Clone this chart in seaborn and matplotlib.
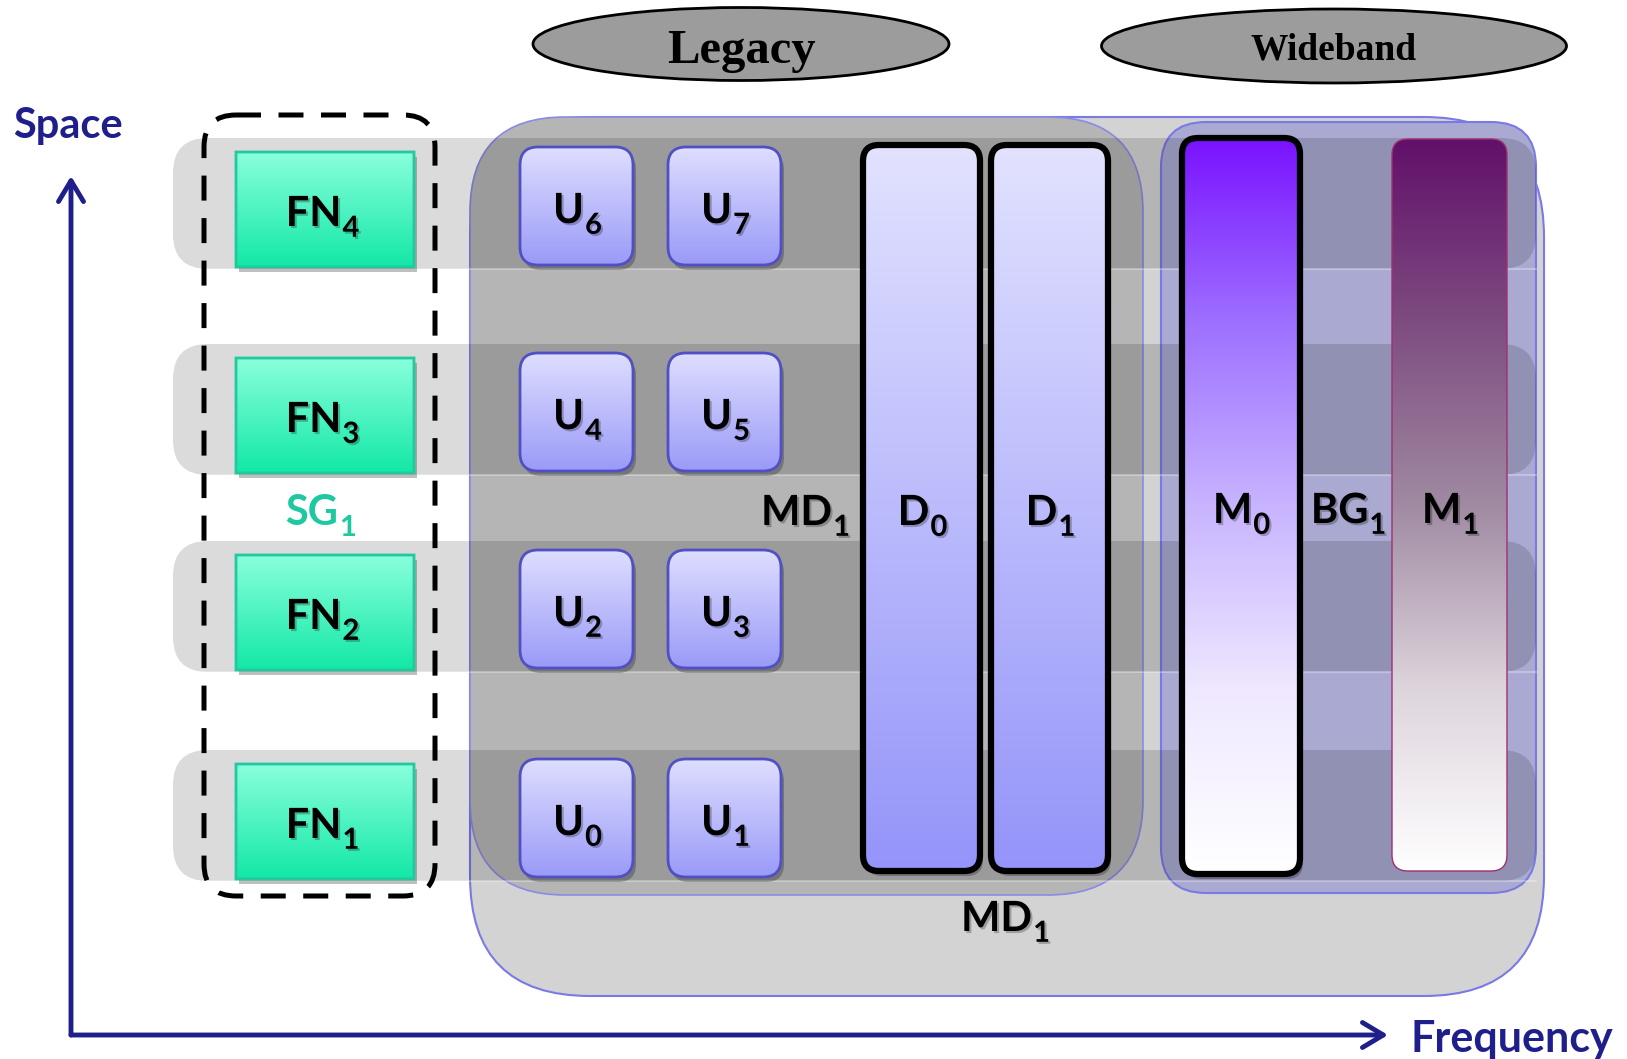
import numpy as np
import matplotlib
matplotlib.use('Agg')
import matplotlib.pyplot as plt
import matplotlib.patheffects as pe
from matplotlib.patches import FancyBboxPatch, Ellipse
from matplotlib.font_manager import FontProperties
import seaborn as sns

sns.set_theme(style='white')
plt.rcParams['font.family'] = ['Lato', 'DejaVu Sans']

# labels of the diagram, rows from top to bottom
fn_ids = [4, 3, 2, 1]
u_pairs = [[6, 7], [4, 5], [2, 3], [0, 1]]
d_ids = [0, 1]
m_ids = [0, 1]
band_names = ['Legacy', 'Wideband']
axis_names = ['Space', 'Frequency']

# layout in pixels
W, H = 1627, 1059
ROW_TOP = [138, 344, 541, 750]
ROW_H = 131
NAVY = '#1f1f8c'


def rbox(x, y, w, h, r, **kw):
    return FancyBboxPatch((x, y), w, h, boxstyle=f'round,pad=0,rounding_size={r}', **kw)


def grad_box(ax, x, y, w, h, r, colors, ec, lw, z, shadow=True):
    if shadow:
        ax.add_patch(rbox(x + 3, y + 5, w, h, r, fc='black', ec='none', alpha=0.25, zorder=z - 0.5))
    clip = rbox(x, y, w, h, r, fc='none', ec=ec, lw=lw, zorder=z + 0.1)
    ax.add_patch(clip)
    cmap = sns.blend_palette(colors, as_cmap=True)
    im = ax.imshow(np.linspace(0, 1, 256)[:, None], cmap=cmap, extent=(x, x + w, y + h, y),
                   origin='upper', aspect='auto', zorder=z, interpolation='bilinear')
    im.set_clip_path(clip)


fig = plt.figure(figsize=(W / 100, H / 100), dpi=100)
ax = fig.add_axes([0, 0, 1, 1])
renderer = fig.canvas.get_renderer()
shadow_fx = [pe.withSimplePatchShadow(offset=(1.5, -1.5), shadow_rgbFace='black', alpha=0.25)]


def label(x, y, name, sub, color='black', size=30, fx=True):
    # main text plus a lowered subscript, centred as one group
    fp = FontProperties(family='Lato', weight='bold', size=size)
    fs = FontProperties(family='Lato', weight='bold', size=size * 0.7)
    wm = renderer.get_text_width_height_descent(name, fp, ismath=False)[0]
    ws = renderer.get_text_width_height_descent(str(sub), fs, ismath=False)[0]
    x0 = x - (wm + ws) / 2
    effects = shadow_fx if fx else []
    ax.text(x0, y, name, ha='left', va='baseline', fontproperties=fp, color=color,
            zorder=20, path_effects=effects)
    ax.text(x0 + wm + 1, y + size * 0.36, str(sub), ha='left', va='baseline', fontproperties=fs,
            color=color, zorder=20, path_effects=effects)


# big containers
ax.add_patch(rbox(470, 117, 1074, 879, 120, fc='#d3d3d3', ec='#7a7ae6', lw=1.5, zorder=1))
ax.add_patch(rbox(470, 117, 673, 778, 95, fc='#b5b5b5', ec='#8a8ae6', lw=1.2, zorder=2))
ax.add_patch(rbox(1161, 122, 375, 771, 45, fc='#a9a9d2', ec='#7a7ae6', lw=1.5, zorder=2))

# space rows
for top in ROW_TOP:
    ax.add_patch(rbox(173, top, 1363, ROW_H, 35, fc='black', ec='none', alpha=0.14, zorder=3))
    ax.plot([173 + 30, 1536], [top + ROW_H, top + ROW_H], color='white', alpha=0.3, lw=1.5, zorder=3.2)

# fronthaul nodes and legacy users
for top, fn, (ua, ub) in zip(ROW_TOP, fn_ids, u_pairs):
    grad_box(ax, 236, top + 14, 178, 115, 0, ['#8affdc', '#12e8a6'], '#22c89e', 2, 5)
    label(322, top + 14 + 74, 'FN', fn)
    for ux, u in zip([520, 668], [ua, ub]):
        grad_box(ax, ux, top + 9, 113, 118, 18, ['#dedeff', '#9a9af8'], '#5050c4', 2, 5)
        label(ux + 57, top + 9 + 76, 'U', u)

# legacy downlink bars
for dx, d in zip([863, 991], d_ids):
    grad_box(ax, dx, 145, 117, 726, 16, ['#e2e2ff', '#9494fa'], 'black', 4.5, 6)
    label(dx + 59, 525, 'D', d)

# wideband bars
grad_box(ax, 1182, 138, 118, 736, 16,
         ['#7a12ff', '#9e70ff', '#c8b4ff', '#efe8ff', '#ffffff'], 'black', 4.5, 6)
grad_box(ax, 1392, 139, 115, 732, 16,
         ['#62106a', '#7e4c80', '#a08aa2', '#ddd4dc', '#ffffff'], '#a03070', 1, 6, shadow=False)
label(1241, 523, 'M', m_ids[0])
label(1450, 523, 'M', m_ids[1])
label(1348, 523, 'BG', 1)
label(805, 525, 'MD', 1)
label(1005, 931, 'MD', 1)

# serving group
ax.add_patch(rbox(204, 115, 231, 781, 32, fc='none', ec='black', lw=3.6,
                  ls=(0, (5, 3.5)), zorder=8))
label(320, 525, 'SG', 1, color='#1ec8a0', fx=False)

# band ellipses
for (cx, cy, ew, eh), name, fs in zip([(741, 44, 416, 73), (1334, 46, 465, 74)], band_names, [35, 27]):
    ax.add_patch(Ellipse((cx, cy), ew, eh, fc='#9c9c9c', ec='black', lw=2, zorder=4))
    ax.text(cx, cy + (19 if fs > 30 else 14), name, ha='center', va='baseline', fontsize=fs,
            fontweight='bold', family='Liberation Serif', color='black', zorder=20)

# axes arrows
arrow = dict(arrowstyle='->,head_length=0.75,head_width=0.45', lw=3.5, color=NAVY,
             shrinkA=0, shrinkB=0, mutation_scale=20)
ax.annotate('', xy=(71, 176), xytext=(71, 1035), arrowprops=arrow, zorder=9)
ax.annotate('', xy=(1388, 1035), xytext=(71, 1035), arrowprops=arrow, zorder=9)
ax.text(13, 138, axis_names[0], ha='left', va='baseline', fontsize=30, fontweight='bold', color=NAVY)
ax.text(1411, 1052, axis_names[1], ha='left', va='baseline', fontsize=31, fontweight='bold', color=NAVY)

ax.set_xlim(0, W)
ax.set_ylim(H, 0)
ax.axis('off')
fig.savefig('out.png', dpi=100)
